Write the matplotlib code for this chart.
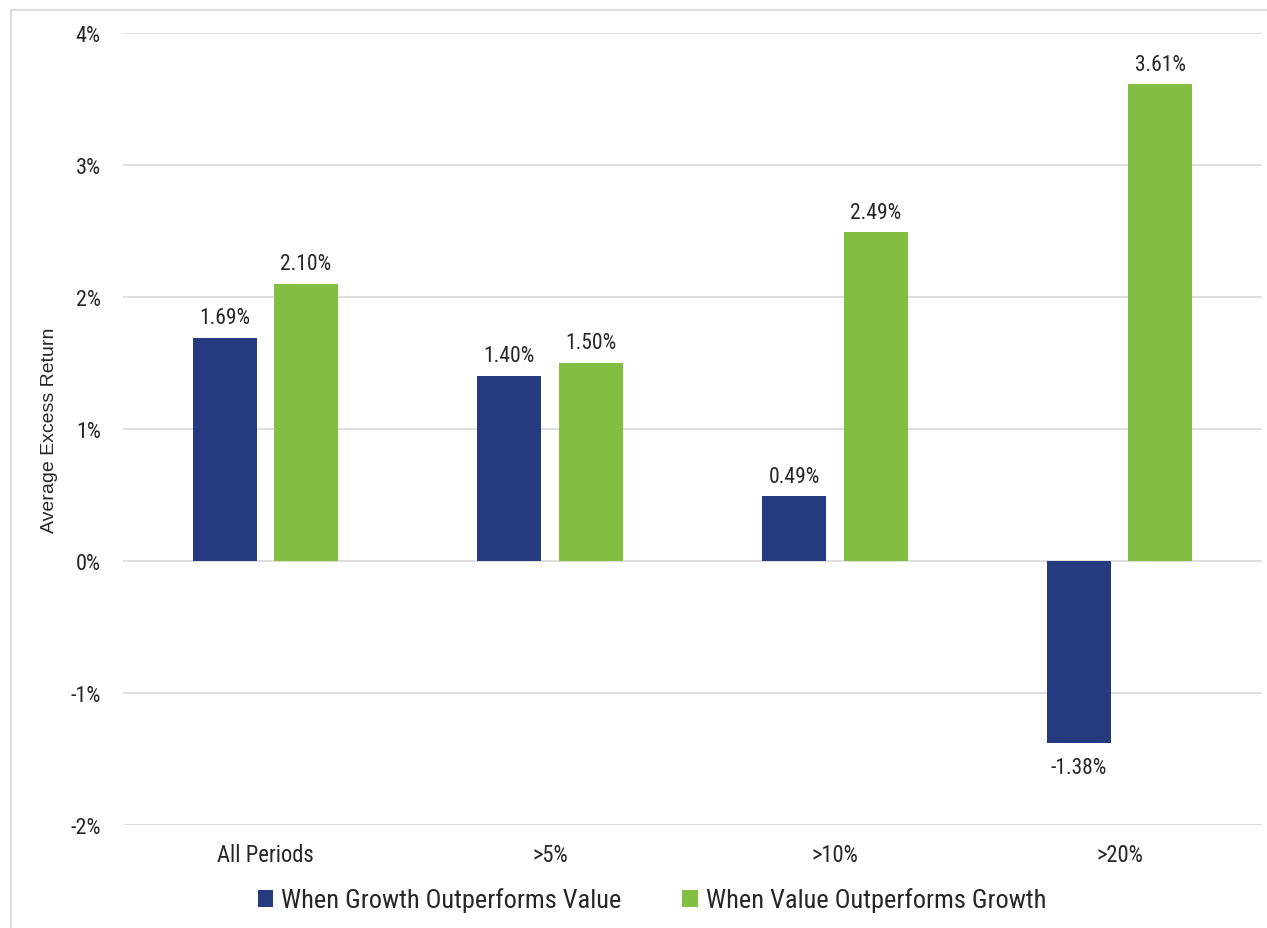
import matplotlib
matplotlib.use("Agg")
import matplotlib.pyplot as plt
from matplotlib.patches import Rectangle
import numpy as np

categories = ["All Periods", ">5%", ">10%", ">20%"]
growth_outperforms = [1.69, 1.40, 0.49, -1.38]
value_outperforms = [2.10, 1.50, 2.49, 3.61]
series_names = ["When Growth Outperforms Value", "When Value Outperforms Growth"]
y_ticks = [-2, -1, 0, 1, 2, 3, 4]

plt.rcParams["font.family"] = ["Roboto Condensed", "DejaVu Sans"]

BLUE = "#263A7F"
GREEN = "#81BE41"
TEXT = "#262626"
GRID = "#D9D9D9"

fig = plt.figure(figsize=(12.67, 9.29), dpi=100)
ax = fig.add_axes([123 / 1267, 1 - 826 / 929, 1139 / 1267, 792 / 929])

x = np.arange(len(categories))
off = 0.143
w = 0.225
b1 = ax.bar(x - off, growth_outperforms, w, color=BLUE, label=series_names[0], zorder=3)
b2 = ax.bar(x + off, value_outperforms, w, color=GREEN, label=series_names[1], zorder=3)

for bars, vals in ((b1, growth_outperforms), (b2, value_outperforms)):
    for r, v in zip(bars, vals):
        cx = r.get_x() + r.get_width() / 2
        if v >= 0:
            ax.annotate(f"{v:.2f}%", (cx, v), xytext=(0, 7), textcoords="offset points",
                        ha="center", va="bottom", fontsize=15.5, color=TEXT)
        else:
            ax.annotate(f"{v:.2f}%", (cx, v), xytext=(0, -10), textcoords="offset points",
                        ha="center", va="top", fontsize=15.5, color=TEXT)

ax.set_xlim(-0.5, len(categories) - 0.5)
ax.set_ylim(-2, 4)
ax.set_yticks(y_ticks)
ax.set_yticklabels([f"{t}%" for t in y_ticks], fontsize=16, color=TEXT)
ax.set_xticks(x)
ax.set_xticklabels(categories, fontsize=16.3, color=TEXT)
ax.tick_params(axis="both", length=0)
ax.tick_params(axis="y", pad=16)
ax.tick_params(axis="x", pad=13)
ax.grid(axis="y", color=GRID, linewidth=1.2, zorder=0)
for s in ax.spines.values():
    s.set_visible(False)
ax.set_ylabel("Average Excess Return", fontsize=14, color=TEXT,
              family=["Liberation Sans", "DejaVu Sans"])
ax.yaxis.set_label_coords(-(123 - 58) / 1139, 0.5)

leg = fig.legend(handles=[b1, b2], loc="center", bbox_to_anchor=(652 / 1267, 1 - 901 / 929),
                 ncol=2, frameon=False, fontsize=19, handlelength=0.6, handleheight=0.6,
                 handletextpad=0.3, columnspacing=2.3, labelcolor=TEXT)

fig.patches.append(Rectangle((11 / 1267, -0.05), 1.2, 1 - 11 / 929 + 0.05,
                             transform=fig.transFigure, fill=False,
                             edgecolor=GRID, linewidth=1.3))

fig.savefig("out.png", dpi=100)
